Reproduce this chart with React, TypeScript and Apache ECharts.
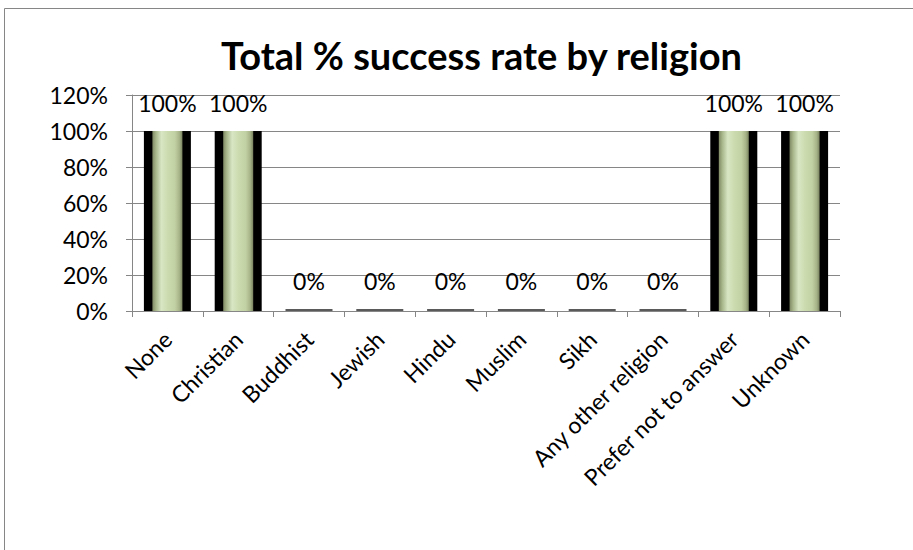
import React, { useEffect, useRef } from "react";
import * as echarts from "echarts";

const categories = [
  "None",
  "Christian",
  "Buddhist",
  "Jewish",
  "Hindu",
  "Muslim",
  "Sikh",
  "Any other religion",
  "Prefer not to answer",
  "Unknown",
];
const successRate = [100, 100, 0, 0, 0, 0, 0, 0, 100, 100];
const yTicks = [0, 20, 40, 60, 80, 100, 120];

const FONT = "Lato, 'Open Sans', sans-serif";

export default function App() {
  const ref = useRef<HTMLDivElement>(null);
  useEffect(() => {
    document.body.style.margin = "0";
    const chart = echarts.init(ref.current!, null, { renderer: "svg" });
    const greenGrad = new echarts.graphic.LinearGradient(0, 0, 1, 0, [
      { offset: 0, color: "#7f8a64" },
      { offset: 0.12, color: "#a9b78c" },
      { offset: 0.3, color: "#d8e6c4" },
      { offset: 0.5, color: "#cddcb0" },
      { offset: 0.75, color: "#c2d1a3" },
      { offset: 0.9, color: "#a6b388" },
      { offset: 1, color: "#7a8460" },
    ]);
    const hiddenAxis = {
      type: "category",
      data: categories,
      show: false,
    };
    chart.setOption({
      animation: false,
      title: {
        text: "Total % success rate by religion",
        left: 216,
        top: 31,
        textStyle: { fontFamily: FONT, fontWeight: "bold", fontSize: 38, color: "#000" },
      },
      graphic: [
        {
          type: "rect",
          shape: { x: 4.5, y: 8.5, width: 1200, height: 1200 },
          style: { fill: "none", stroke: "#868686", lineWidth: 1 },
          silent: true,
        },
      ],
      grid: { left: 132, right: 73, top: 95, bottom: 239, containLabel: false },
      xAxis: [
        {
          type: "category",
          data: categories,
          axisLine: { lineStyle: { color: "#868686", width: 1 } },
          axisTick: { show: true, length: 6, lineStyle: { color: "#868686" } },
          axisLabel: {
            rotate: 45,
            interval: 0,
            margin: 24,
            fontFamily: FONT,
            fontSize: 23,
            color: "#000",
          },
        },
        hiddenAxis,
      ],
      yAxis: {
        type: "value",
        min: 0,
        max: 120,
        interval: 20,
        axisLine: { show: true, lineStyle: { color: "#868686" } },
        axisTick: { show: true, length: 6, lineStyle: { color: "#868686" } },
        splitLine: { lineStyle: { color: "#868686", width: 1 } },
        axisLabel: {
          formatter: (v: number) => (yTicks.includes(v) ? v + "%" : ""),
          fontFamily: FONT,
          fontSize: 23,
          color: "#000",
          margin: 24,
        },
      },
      series: [
        {
          type: "bar",
          xAxisIndex: 0,
          data: successRate,
          barWidth: 47,
          barMinHeight: 2,
          itemStyle: {
            color: (p: any) => (p.value === 0 ? "#5a5a5a" : "#000"),
          },
          z: 2,
          label: {
            show: true,
            position: "top",
            distance: 17,
            formatter: (p: any) => p.value + "%",
            fontFamily: FONT,
            fontSize: 23,
            color: "#000",
          },
        },
        {
          type: "bar",
          xAxisIndex: 1,
          data: successRate,
          barWidth: 30,
          itemStyle: { color: greenGrad },
          z: 3,
        },
      ],
    });
    return () => chart.dispose();
  }, []);
  return <div ref={ref} style={{ width: 913, height: 550 }} />;
}
